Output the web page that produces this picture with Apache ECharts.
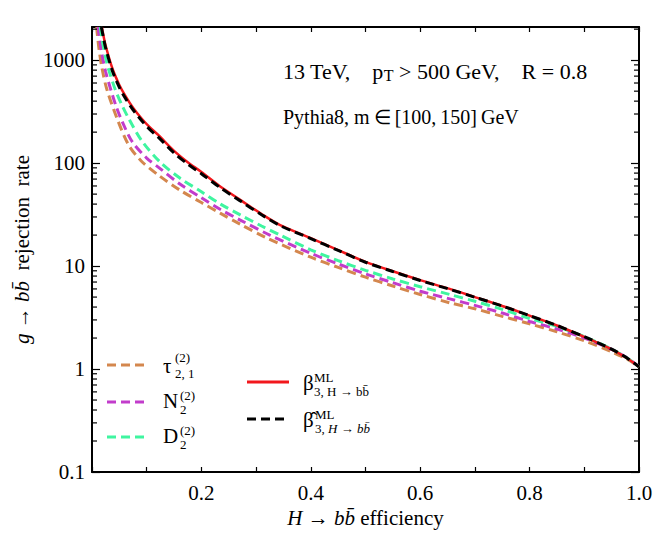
<!DOCTYPE html>
<html>
<head>
<meta charset="utf-8">
<script src="https://cdn.jsdelivr.net/npm/echarts@6/dist/echarts.min.js"></script>
<style>
  html, body { margin: 0; padding: 0; background: #fff; }
  #chart { width: 664px; height: 539px; }
</style>
</head>
<body>
<div id="chart"></div>
<script>
// H -> bb efficiency (x) vs g -> bb rejection rate (y)
const betaX = [0.018, 0.021, 0.025, 0.037, 0.05, 0.061, 0.075, 0.091, 0.105, 0.122, 0.149, 0.175, 0.2, 0.235, 0.271, 0.31, 0.344, 0.4, 0.45, 0.5, 0.55, 0.6, 0.654, 0.7, 0.75, 0.8, 0.85, 0.9, 0.95, 0.98, 1.0]
const betaY = [2100, 1730, 1380, 840, 575, 450, 345, 270, 225, 186, 133, 102, 82, 58.9, 44, 32, 25, 18.7, 14.3, 11.0, 8.9, 7.3, 6.0, 5.0, 4.1, 3.3, 2.65, 2.05, 1.55, 1.25, 1.05]

const betaHatX = [0.017, 0.021, 0.025, 0.037, 0.05, 0.061, 0.075, 0.091, 0.105, 0.122, 0.149, 0.175, 0.2, 0.235, 0.271, 0.31, 0.344, 0.4, 0.45, 0.5, 0.55, 0.6, 0.654, 0.7, 0.75, 0.8, 0.85, 0.9, 0.95, 0.98, 1.0]
const betaHatY = [2100, 1650, 1310, 795, 545, 428, 330, 258, 214, 177, 127, 98, 79, 57.5, 43, 31.5, 24.7, 18.5, 14.2, 10.9, 8.85, 7.25, 5.95, 4.98, 4.1, 3.3, 2.65, 2.06, 1.56, 1.26, 1.05]

const d2X = [0.015, 0.019, 0.024, 0.03, 0.043, 0.055, 0.067, 0.091, 0.124, 0.16, 0.2, 0.235, 0.271, 0.31, 0.344, 0.4, 0.45, 0.5, 0.55, 0.6, 0.654, 0.7, 0.75, 0.8, 0.85, 0.887, 0.9, 0.95, 0.98, 1.0]
const d2Y = [2100, 1530, 1115, 825, 510, 364, 272, 165, 103, 72, 52.7, 40, 31.4, 24.5, 20, 14.4, 11.3, 9.1, 7.5, 6.3, 5.3, 4.55, 3.8, 3.1, 2.6, 2.2, 2.07, 1.56, 1.26, 1.05]

const n2X = [0.0112, 0.013, 0.018, 0.025, 0.034, 0.045, 0.055, 0.073, 0.1, 0.124, 0.16, 0.2, 0.235, 0.271, 0.325, 0.4, 0.45, 0.5, 0.55, 0.6, 0.654, 0.7, 0.75, 0.8, 0.85, 0.9, 0.95, 0.98, 1.0]
const n2Y = [2100, 1740, 1160, 770, 525, 345, 255, 163, 112, 89, 63, 46, 35.4, 28, 20, 13.3, 10.5, 8.4, 6.9, 5.7, 4.8, 4.15, 3.5, 2.9, 2.45, 2.0, 1.55, 1.27, 1.05]

const tauX = [0.0085, 0.01, 0.013, 0.018, 0.027, 0.046, 0.067, 0.09, 0.122, 0.16, 0.2, 0.235, 0.271, 0.319, 0.4, 0.45, 0.5, 0.55, 0.6, 0.654, 0.7, 0.75, 0.8, 0.85, 0.9, 0.95, 0.98, 1.0]
const tauY = [2100, 1730, 1260, 850, 525, 270, 150, 105, 76, 55, 41.4, 32.5, 25.5, 18.8, 12.2, 9.7, 7.8, 6.4, 5.3, 4.4, 3.85, 3.25, 2.75, 2.3, 1.88, 1.47, 1.23, 1.05]

const yMinorTicks = [0.2, 0.3, 0.4, 0.5, 0.6, 0.7, 0.8, 0.9, 2, 3, 4, 5, 6, 7, 8, 9,
  20, 30, 40, 50, 60, 70, 80, 90, 200, 300, 400, 500, 600, 700, 800, 900, 2000]
const xLabels = ['0.2', '0.4', '0.6', '0.8', '1.0']

const FONT = 'Liberation Serif'
const C_TAU = '#d4874e'
const C_N2 = '#c23ccb'
const C_D2 = '#3ff5a0'
const C_BETA = '#f2171c'
const C_HAT = '#000000'

const pairs = (xs, ys) => xs.map((x, i) => [x, ys[i]])

const chart = echarts.init(document.getElementById('chart'), null, { renderer: 'svg' })

// onZero off, otherwise the extra axes snap onto the zero line
const xCommon = {
  type: 'value', min: 0, max: 1, interval: 0.1,
  axisLine: { show: true, onZero: false, lineStyle: { color: '#000', width: 2 } },
  axisTick: { show: true, inside: true, length: 5, lineStyle: { color: '#000', width: 1.2 } },
  splitLine: { show: false },
}
const yCommon = {
  type: 'log', logBase: 10, min: 0.1, max: 2100,
  axisLine: { show: true, onZero: false, lineStyle: { color: '#000', width: 2 } },
  axisTick: { show: true, inside: true, length: 8, lineStyle: { color: '#000', width: 1.2 } },
  splitLine: { show: false },
}

const rich = {
  r: { fontFamily: FONT, fontSize: 21, color: '#000' },
  i: { fontFamily: FONT, fontSize: 21, fontStyle: 'italic', color: '#000' },
}

function dashed(name, data, color, z) {
  return {
    name, type: 'line', data, showSymbol: false, smooth: 0.3, z,
    lineStyle: { color, width: 3, type: [9, 5] },
  }
}

// math-style label: main glyph with stacked sup/sub
function mathLabel(x, y, main, sup, sub, dx, supDy, subDy) {
  const small = {
    r: { fontFamily: FONT, fontSize: 13, color: '#000' },
    i: { fontFamily: FONT, fontSize: 13, fontStyle: 'italic', color: '#000' },
  }
  return {
    type: 'group',
    children: [
      { type: 'text', x, y, style: { text: main, font: '21px "' + FONT + '"', fill: '#000', verticalAlign: 'middle' } },
      { type: 'text', x: x + dx, y: y + supDy, style: { text: '{r|' + sup + '}', rich: small, verticalAlign: 'middle' } },
      { type: 'text', x: x + dx, y: y + subDy, style: { text: sub, rich: small, verticalAlign: 'middle' } },
    ],
  }
}

function legendLine(x1, x2, y, color, dash) {
  return { type: 'line', shape: { x1, y1: y, x2, y2: y },
    style: { stroke: color, lineWidth: 3, lineDash: dash } }
}

const option = {
  animation: false,
  backgroundColor: '#fff',
  grid: { left: 92, right: 25, top: 27, bottom: 67 },
  xAxis: [
    {
      ...xCommon, position: 'bottom',
      axisLabel: {
        margin: 10, fontFamily: FONT, fontSize: 21, color: '#000',
        formatter: v => {
          const s = v.toFixed(1)
          return xLabels.includes(s) ? s : ''
        },
      },
      name: '{i|H}{r| \u2192 }{i|bb\u0304}{r| efficiency}',
      nameLocation: 'middle', nameGap: 29,
      nameTextStyle: { rich },
    },
    { ...xCommon, position: 'top', axisLabel: { show: false } },
  ],
  yAxis: [
    {
      ...yCommon, position: 'left',
      axisLabel: {
        margin: 7, fontFamily: FONT, fontSize: 21, color: '#000', showMaxLabel: false,
        formatter: v => String(+(+v).toPrecision(3)),
      },
      name: '{i|g}{r| \u2192 }{i|bb\u0304}{r|  rejection  rate}',
      nameLocation: 'middle', nameGap: 50,
      nameTextStyle: { rich },
    },
    { ...yCommon, position: 'right', axisLabel: { show: false } },
  ],
  series: [
    {
      // log minor ticks (2..9 per decade) on both frame sides
      type: 'custom', silent: true, z: 10,
      data: yMinorTicks.map(v => [0, v]),
      encode: { x: 0, y: 1 },
      clip: false,
      renderItem: (params, api) => {
        const v = api.value(1)
        const l = api.coord([0, v])
        const r = api.coord([1, v])
        return {
          type: 'group',
          children: [
            { type: 'line', shape: { x1: l[0], y1: l[1], x2: l[0] + 5, y2: l[1] }, style: { stroke: '#000', lineWidth: 1.2 } },
            { type: 'line', shape: { x1: r[0] - 5, y1: r[1], x2: r[0], y2: r[1] }, style: { stroke: '#000', lineWidth: 1.2 } },
          ],
        }
      },
    },
    dashed('tau', pairs(tauX, tauY), C_TAU, 2),
    dashed('N2', pairs(n2X, n2Y), C_N2, 3),
    dashed('D2', pairs(d2X, d2Y), C_D2, 4),
    {
      name: 'beta', type: 'line', data: pairs(betaX, betaY), showSymbol: false, smooth: 0.3, z: 5,
      lineStyle: { color: C_BETA, width: 2.5 },
    },
    dashed('betaHat', pairs(betaHatX, betaHatY), C_HAT, 6),
  ],
  graphic: [
    { type: 'text', left: 283, top: 60, style: {
      text: '13 TeV,\u2003p{s|T} > 500 GeV,\u2003R = 0.8', fill: '#000',
      font: '22px "' + FONT + '"',
      rich: { s: { fontFamily: FONT, fontSize: 16, padding: [9, 0, 0, 0] } },
    } },
    { type: 'text', left: 283, top: 107, style: {
      text: 'Pythia8, m\u2009\u2208\u2009[100,\u2009150]\u2009GeV', fill: '#000', font: '20px "' + FONT + '"',
    } },
    legendLine(107, 148, 365, C_TAU, [9, 5]),
    legendLine(107, 148, 402, C_N2, [9, 5]),
    legendLine(107, 148, 437, C_D2, [9, 5]),
    legendLine(247, 289, 382, C_BETA, null),
    legendLine(247, 289, 419, C_HAT, [9, 5]),
    mathLabel(163, 366, '\u03c4', '(2)', '{r|2, 1}', 12, -9, 7),
    mathLabel(163, 401, 'N', '(2)', '{r|2}', 17, -6, 8),
    mathLabel(163, 436, 'D', '(2)', '{r|2}', 17, -6, 8),
    mathLabel(303, 383, '\u03b2', 'ML', '{r|3, H \u2192 bb\u0304}', 11, -6, 8),
    mathLabel(303, 420, '\u03b2\u0302', 'ML', '{r|3, }{i|H}{r| \u2192 }{i|bb\u0304}', 12, -6, 8),
  ],
}

chart.setOption(option)
</script>
</body>
</html>
